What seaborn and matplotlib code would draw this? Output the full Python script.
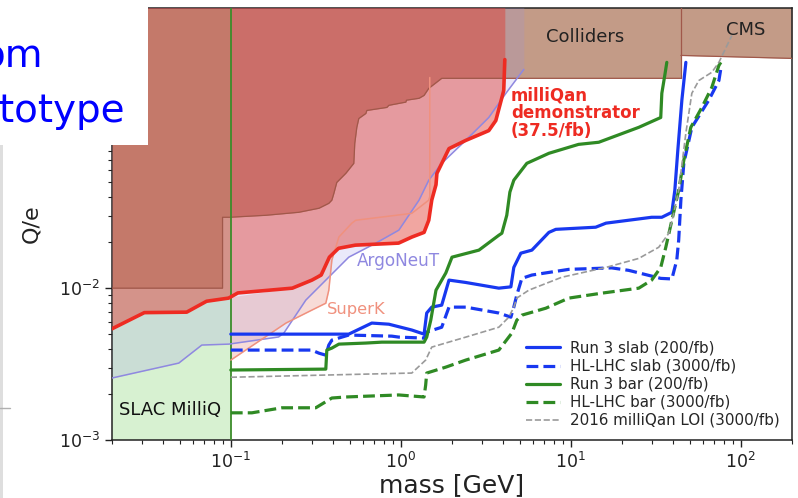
import numpy as np
import matplotlib
matplotlib.use("Agg")
import matplotlib.pyplot as plt
from matplotlib.patches import Rectangle
from matplotlib.lines import Line2D
import seaborn as sns

# ---------------- exclusion regions (mass in GeV, Q/e) ----------------
# lower edge of the collider-excluded area
coll_mass = [0.02, 0.0894, 0.0894, 0.0986, 0.161, 0.251, 0.330, 0.377, 0.393,
             0.404, 0.420, 0.475, 0.529, 0.536, 0.551, 0.566, 0.623, 0.631, 0.828,
             0.850, 1.07, 1.08, 1.28, 1.37, 1.46, 1.74, 44.4]
coll_q = [0.01, 0.01, 0.0293, 0.0293, 0.0302, 0.0316, 0.0336, 0.0362, 0.038,
          0.0422, 0.0497, 0.0571, 0.0664, 0.090, 0.1146, 0.131, 0.1415, 0.148, 0.155,
          0.160, 0.168, 0.173, 0.178, 0.186, 0.207, 0.241, 0.241]
# CMS lower edge
cms_mass = [44.4, 200.0]
cms_q = [0.341, 0.326]
# SLAC MilliQ mass range
slac_mass = [0.02, 0.1]

# ArgoNeuT limit
argo_mass = [0.02, 0.0494, 0.0675, 0.0973, 0.191, 0.205, 0.276, 0.362, 0.494,
             0.713, 0.973, 1.28, 1.46, 1.74, 2.41, 3.29, 4.15, 5.29]
argo_q = [2.56e-3, 3.21e-3, 4.22e-3, 4.28e-3, 4.77e-3, 5.06e-3, 8.34e-3, 0.0113,
          0.016, 0.0198, 0.0241, 0.038, 0.0514, 0.0664, 0.0942, 0.133, 0.192, 0.276]

# SuperK limit
superk_mass = [0.1, 0.211, 0.299, 0.362, 0.377, 0.393, 0.432, 0.515, 0.543, 1.16,
               1.46, 1.48, 1.48]
superk_q = [3.36e-3, 5.89e-3, 7.16e-3, 7.96e-3, 9.7e-3, 0.0153, 0.0217, 0.0268,
            0.028, 0.0311, 0.038, 0.040, 0.244]

# milliQan demonstrator limit (37.5/fb)
demo_mass = [0.02, 0.031, 0.055, 0.072, 0.097, 0.11, 0.23, 0.30, 0.34, 0.38, 0.43,
             0.54, 0.97, 1.16, 1.37, 1.46, 1.52, 1.61, 1.63, 1.92, 2.41, 3.29, 3.62,
             4.03, 4.09]
demo_q = [5.4e-3, 6.9e-3, 6.95e-3, 8.2e-3, 8.6e-3, 9.3e-3, 1.0e-2, 1.13e-2, 1.22e-2,
          1.6e-2, 1.83e-2, 1.92e-2, 1.98e-2, 2.17e-2, 2.33e-2, 2.8e-2, 3.8e-2, 4.8e-2,
          5.7e-2, 8.3e-2, 9.4e-2, 0.109, 0.127, 0.20, 0.32]

# ---------------- projected sensitivities ----------------
r3slab_mass = [0.1, 0.494, 0.675, 0.850, 1.16, 1.37, 1.42, 1.52, 1.74, 1.92, 2.41,
               3.77, 4.44, 4.62, 5.08, 5.90, 7.43, 8.16, 14.0, 16.1, 29.9, 34.3, 39.3,
               40.9, 42.6, 45.0, 47.5]
r3slab_q = [4.98e-3, 4.98e-3, 5.89e-3, 5.79e-3, 5.30e-3, 4.98e-3, 6.86e-3, 7.5e-3,
            7.73e-3, 0.0113, 0.0109, 0.0100, 0.0102, 0.0137, 0.0170, 0.0178, 0.0233,
            0.0244, 0.0252, 0.0268, 0.0293, 0.0293, 0.0316, 0.0441, 0.081, 0.173, 0.307]

hlslab_mass = [0.1, 0.299, 0.330, 0.362, 0.377, 0.393, 0.494, 0.885, 0.973, 1.37,
               1.42, 1.74, 1.92, 2.41, 3.77, 4.44, 4.62, 4.81, 5.15, 5.90, 9.73, 17.4,
               21.9, 33.8, 39.3, 42.0, 43.1, 44.4, 46.2, 51.5, 64.8, 74.3, 76.3]
hlslab_q = [3.91e-3, 3.91e-3, 3.73e-3, 3.62e-3, 4.22e-3, 4.55e-3, 4.91e-3, 4.83e-3,
            4.76e-3, 4.69e-3, 5.14e-3, 5.53e-3, 7.5e-3, 7.5e-3, 6.86e-3, 6.44e-3,
            7.5e-3, 9.0e-3, 0.0116, 0.0122, 0.0133, 0.0136, 0.0131, 0.0116, 0.0115,
            0.0153, 0.0207, 0.038, 0.0664, 0.1146, 0.173, 0.233, 0.280]

r3bar_mass = [0.1, 0.362, 0.367, 0.393, 0.432, 0.623, 0.773, 1.37, 1.42, 1.50, 1.61,
              1.84, 2.0, 2.88, 3.77, 3.93, 4.20, 4.38, 4.62, 5.51, 7.43, 11.1, 14.6,
              25.1, 33.8, 34.3, 35.7, 36.7]
r3bar_q = [2.89e-3, 2.93e-3, 3.91e-3, 4.03e-3, 4.28e-3, 4.35e-3, 4.41e-3, 4.41e-3,
           4.76e-3, 6.15e-3, 9.7e-3, 0.0126, 0.016, 0.0178, 0.0223, 0.0230, 0.0302,
           0.0429, 0.0514, 0.0664, 0.0773, 0.0885, 0.0914, 0.1146, 0.133, 0.192,
           0.252, 0.307]

hlbar_mass = [0.1, 0.133, 0.20, 0.316, 0.393, 0.475, 0.973, 1.37, 1.40, 1.42, 1.84,
              2.41, 3.77, 4.50, 4.81, 5.15, 7.13, 9.73, 15.2, 25.1, 29.9, 33.8, 36.2,
              39.3, 43.1, 46.2, 50.8, 59.0, 67.5, 74.3, 76.3]
hlbar_q = [1.51e-3, 1.51e-3, 1.63e-3, 1.63e-3, 1.89e-3, 1.92e-3, 1.98e-3, 1.92e-3,
           2.30e-3, 2.76e-3, 3.02e-3, 3.36e-3, 3.91e-3, 5.06e-3, 6.15e-3, 6.64e-3,
           7.38e-3, 8.6e-3, 9.27e-3, 0.01, 0.0113, 0.0137, 0.0186, 0.028, 0.0441,
           0.0695, 0.1146, 0.155, 0.210, 0.293, 0.307]

loi_mass = [0.1, 1.16, 1.40, 1.52, 2.41, 3.77, 4.32, 4.62, 4.81, 5.66, 8.85, 16.1,
            25.1, 32.9, 37.7, 40.3, 43.1, 47.5, 51.5, 56.6, 67.5, 74.3, 88.5]
loi_q = [2.59e-3, 2.76e-3, 3.36e-3, 4.09e-3, 4.76e-3, 5.53e-3, 6.44e-3, 7.5e-3,
         8.6e-3, 9.7e-3, 0.0118, 0.0137, 0.0157, 0.0186, 0.0230, 0.0311, 0.0441,
         0.105, 0.192, 0.233, 0.264, 0.307, 0.461]

legend_labels = ["Run 3 slab (200/fb)", "HL-LHC slab (3000/fb)", "Run 3 bar (200/fb)",
                 "HL-LHC bar (3000/fb)", "2016 milliQan LOI (3000/fb)"]

# ---------------- styling ----------------
sns.set_style("ticks")
plt.rcParams['font.family'] = ['DejaVu Sans']

BLUE = '#1838f0'
GREEN = '#2f8a24'
RED = '#ee2b22'
GREY = '#9a9a9a'
ARGO = '#8f88e0'
SUPERK = '#f0917e'
BROWN = '#c39b87'
EDGE = '#a0584a'
TOP = 1.0

fig = plt.figure(figsize=(7.98, 4.98), dpi=100)
ax = fig.add_axes([112 / 798, 1 - 440 / 498, 680 / 798, 432 / 498])
ax.set_xscale('log')
ax.set_yscale('log')

# demonstrator limit evaluated on the SuperK mass grid (log-log interpolation)
demo_on_superk = np.exp(np.interp(np.log(superk_mass), np.log(demo_mass),
                                  np.log(demo_q)))

# excluded regions, bottom layer first
ax.fill_between(coll_mass, coll_q, TOP, color=BROWN, lw=0, zorder=1)
ax.fill_between(cms_mass, cms_q, TOP, color=BROWN, lw=0, zorder=1)
ax.fill_between(slac_mass, 1e-3, TOP, color='#9bde8e', alpha=0.4, lw=0, zorder=2)
ax.fill_between(argo_mass, argo_q, TOP, color='#9691e6', alpha=0.2, lw=0, zorder=3)
ax.fill_between(superk_mass, superk_q, demo_on_superk,
                where=np.array(superk_q) < demo_on_superk, interpolate=True,
                color='#e07060', alpha=0.25, lw=0, zorder=4)
ax.fill_between(demo_mass, demo_q, TOP, color='#e13a30', alpha=0.45, lw=0, zorder=5)

# region outlines
ax.plot(coll_mass, coll_q, color=EDGE, lw=0.9, zorder=6)
ax.plot([44.4, 44.4], [0.241, TOP], color=EDGE, lw=0.9, zorder=6)
ax.plot(cms_mass, cms_q, color=EDGE, lw=0.9, zorder=6)
ax.plot([0.1, 0.1], [1e-3, TOP], color='#3c8c2a', lw=1.3, zorder=6)

# existing limits
sns.lineplot(x=argo_mass, y=argo_q, ax=ax, color=ARGO, lw=1.1, sort=False,
             estimator=None, zorder=7)
sns.lineplot(x=superk_mass, y=superk_q, ax=ax, color=SUPERK, lw=1.1, sort=False,
             estimator=None, zorder=7)
sns.lineplot(x=demo_mass, y=demo_q, ax=ax, color=RED, lw=2.6, sort=False,
             estimator=None, zorder=8)

# projections
series = [
    (r3slab_mass, r3slab_q, BLUE, '-', 2.3),
    (hlslab_mass, hlslab_q, BLUE, '--', 2.3),
    (r3bar_mass, r3bar_q, GREEN, '-', 2.3),
    (hlbar_mass, hlbar_q, GREEN, '--', 2.3),
    (loi_mass, loi_q, GREY, '--', 1.2),
]
for (mx, qy, col, ls, lw), lab in zip(series, legend_labels):
    sns.lineplot(x=mx, y=qy, ax=ax, color=col, linestyle=ls, lw=lw, sort=False,
                 estimator=None, label=lab, zorder=9)

ax.set_xlim(0.02, 200)
ax.set_ylim(1e-3, 0.7)

# region labels
ax.text(12.2, 0.448, "Colliders", fontsize=13, color='#222222', ha='center',
        va='center', zorder=10)
ax.text(107, 0.498, "CMS", fontsize=13, color='#222222', ha='center',
        va='center', zorder=10)
ax.text(4.44, 0.1416, "milliQan\ndemonstrator\n(37.5/fb)", fontsize=12,
        fontweight='bold', color=RED, ha='left', va='center', linespacing=1.0,
        zorder=10)
ax.text(0.551, 0.01507, "ArgoNeuT", fontsize=12.2, color=ARGO, ha='left',
        va='center', zorder=10)
ax.text(0.367, 7.28e-3, "SuperK", fontsize=11.8, color=SUPERK, ha='left',
        va='center', zorder=10)
ax.text(0.0219, 1.57e-3, "SLAC MilliQ", fontsize=13, color='#111111', ha='left',
        va='center', zorder=10)

# axes cosmetics
for sp in ax.spines.values():
    sp.set_visible(True)
    sp.set_color('#222222')
    sp.set_linewidth(1.1)
ax.tick_params(which='major', length=5, width=1, labelsize=12.5, color='#222222',
               labelcolor='#222222')
ax.tick_params(which='minor', length=2.6, width=0.8, color='#222222')
ax.set_xlabel("mass [GeV]", fontsize=18, labelpad=1, color='#222222')
ax.set_ylabel("Q/e", fontsize=16, labelpad=13, color='#222222')

handles, labels = ax.get_legend_handles_labels()
ax.legend(handles, labels, loc='lower right', frameon=False, fontsize=10.9,
          handlelength=2.2, handletextpad=0.7, labelspacing=0.2,
          borderaxespad=0.4)

# slide overlay: white panel with blue heading text at top left
fig.add_artist(Rectangle((0, 1 - 145 / 498), 148 / 798, 145 / 498,
                         transform=fig.transFigure, facecolor='white',
                         edgecolor='none', zorder=20))
fig.text(43 / 798, 1 - 67 / 498, "om", fontsize=28, color='#0000ff', ha='right',
         va='baseline', zorder=21)
fig.text(125 / 798, 1 - 122 / 498, "totype", fontsize=28, color='#0000ff',
         ha='right', va='baseline', zorder=21)
fig.add_artist(Rectangle((0, 0), 3 / 798, 1 - 145 / 498, transform=fig.transFigure,
                         facecolor='#dedede', edgecolor='none', zorder=20))
fig.add_artist(Line2D([0, 10 / 798], [1 - 408 / 498] * 2, transform=fig.transFigure,
                      color='#b0b0b0', lw=1, zorder=20))

fig.savefig("out.png", dpi=100)
